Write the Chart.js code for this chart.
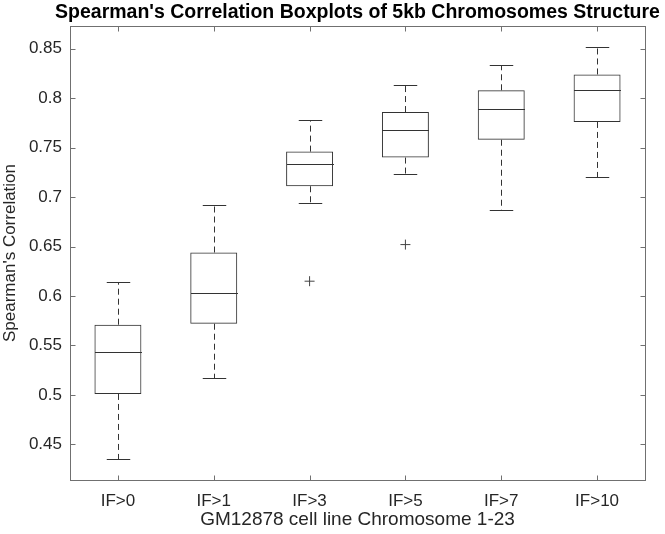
<!DOCTYPE html>
<html>
<head>
<meta charset="utf-8">
<script src="https://cdn.jsdelivr.net/npm/chart.js@4.4.0/dist/chart.umd.min.js"></script>
<style>
  html, body { margin: 0; padding: 0; background: #fff; }
  #wrap { width: 665px; height: 534px; }
</style>
</head>
<body>
<div id="wrap"><canvas id="chart" width="665" height="534"></canvas></div>
<script>
// Datos del boxplot
const categorias = ['IF>0', 'IF>1', 'IF>3', 'IF>5', 'IF>7', 'IF>10'];
const bigoteInf = [0.435, 0.517, 0.694, 0.723, 0.687, 0.720];
const cuartil1 = [0.501, 0.572, 0.711, 0.740, 0.758, 0.776];
const mediana = [0.543, 0.603, 0.733, 0.768, 0.789, 0.808];
const cuartil3 = [0.571, 0.644, 0.746, 0.786, 0.808, 0.824];
const bigoteSup = [0.614, 0.692, 0.778, 0.813, 0.834, 0.852];
const atipicos = [null, null, 0.615, 0.652, null, null];
const ticksY = [0.45, 0.5, 0.55, 0.6, 0.65, 0.7, 0.75, 0.8, 0.85];
const titulo = "Spearman's Correlation Boxplots of 5kb Chromosomes Structure";

const COLOR_CAJA = '#333333';
const COLOR_EJE = '#707070';
const COLOR_TEXTO = '#262626';
const FUENTE = "'Liberation Sans', Arial, sans-serif";

// Plugin: medianas, bigotes, marco estilo MATLAB y título centrado sobre el área
const boxplotPlugin = {
    id: 'boxplotExtras',
    afterDatasetsDraw(chart) {
        const { ctx, chartArea, scales } = chart;
        const x = scales.x, y = scales.y;
        const anchoCat = x.getPixelForValue(1) - x.getPixelForValue(0);
        const medioCaja = anchoCat * 0.49 / 2;
        const medioTope = anchoCat * 0.245 / 2;

        ctx.save();
        ctx.strokeStyle = COLOR_CAJA;
        ctx.lineWidth = 1;
        categorias.forEach((c, i) => {
            const cx = Math.round(x.getPixelForValue(i)) + 0.5;
            const yMed = Math.round(y.getPixelForValue(mediana[i])) + 0.5;
            const yQ1 = y.getPixelForValue(cuartil1[i]);
            const yQ3 = y.getPixelForValue(cuartil3[i]);
            const yLo = Math.round(y.getPixelForValue(bigoteInf[i])) + 0.5;
            const yHi = Math.round(y.getPixelForValue(bigoteSup[i])) + 0.5;

            // mediana
            ctx.setLineDash([]);
            ctx.beginPath();
            ctx.moveTo(cx - medioCaja, yMed);
            ctx.lineTo(cx + medioCaja, yMed);
            ctx.stroke();

            // topes
            ctx.beginPath();
            ctx.moveTo(cx - medioTope, yLo);
            ctx.lineTo(cx + medioTope, yLo);
            ctx.moveTo(cx - medioTope, yHi);
            ctx.lineTo(cx + medioTope, yHi);
            ctx.stroke();

            // bigotes punteados
            ctx.setLineDash([6, 4]);
            ctx.beginPath();
            ctx.moveTo(cx, yQ1);
            ctx.lineTo(cx, yLo);
            ctx.moveTo(cx, yQ3);
            ctx.lineTo(cx, yHi);
            ctx.stroke();
        });

        // marco y marcas hacia adentro
        ctx.setLineDash([]);
        ctx.strokeStyle = COLOR_EJE;
        const l = Math.round(chartArea.left) + 0.5, r = Math.round(chartArea.right) + 0.5;
        const t = Math.round(chartArea.top) + 0.5, b = Math.round(chartArea.bottom) + 0.5;
        ctx.strokeRect(l, t, r - l, b - t);
        ctx.beginPath();
        categorias.forEach((c, i) => {
            const px = Math.round(x.getPixelForValue(i)) + 0.5;
            ctx.moveTo(px, b); ctx.lineTo(px, b - 5);
            ctx.moveTo(px, t); ctx.lineTo(px, t + 5);
        });
        ticksY.forEach(v => {
            const py = Math.round(y.getPixelForValue(v)) + 0.5;
            ctx.moveTo(l, py); ctx.lineTo(l + 5, py);
            ctx.moveTo(r, py); ctx.lineTo(r - 5, py);
        });
        ctx.stroke();

        // título
        ctx.fillStyle = '#000';
        ctx.font = 'bold 19.5px ' + FUENTE;
        ctx.textAlign = 'center';
        ctx.textBaseline = 'alphabetic';
        ctx.fillText(titulo, (chartArea.left + chartArea.right) / 2, 18);
        ctx.restore();
    }
};

const ctx = document.getElementById('chart').getContext('2d');
const chart = new Chart(ctx, {
    type: 'bar',
    data: {
        labels: categorias,
        datasets: [{
            label: 'Caja',
            data: categorias.map((c, i) => [cuartil1[i], cuartil3[i]]),
            backgroundColor: 'rgba(0,0,0,0)',
            borderColor: COLOR_CAJA,
            borderWidth: 1,
            borderSkipped: false,
            barPercentage: 0.49,
            categoryPercentage: 1
        }, {
            type: 'line',
            label: 'Atípicos',
            data: atipicos,
            showLine: false,
            pointStyle: 'cross',
            pointRadius: 5,
            borderColor: '#444',
            borderWidth: 1
        }]
    },
    options: {
        responsive: false,
        animation: false,
        devicePixelRatio: 1,
        layout: { padding: { top: 26, right: 20, bottom: 0, left: 0 } },
        plugins: {
            legend: { display: false },
            tooltip: { enabled: false },
            title: { display: false }
        },
        scales: {
            x: {
                type: 'category',
                offset: true,
                grid: { display: false, drawTicks: false },
                border: { display: false },
                ticks: { color: COLOR_TEXTO, font: { family: FUENTE, size: 17 }, padding: 11, maxRotation: 0 },
                title: {
                    display: true,
                    text: 'GM12878 cell line Chromosome 1-23',
                    color: COLOR_TEXTO,
                    font: { family: FUENTE, size: 19 },
                    padding: { top: 0, bottom: 3 }
                },
                afterFit(scale) { scale.height = 54; }
            },
            y: {
                min: 0.414,
                max: 0.873,
                grid: { display: false, drawTicks: false },
                border: { display: false },
                afterBuildTicks(scale) { scale.ticks = ticksY.map(v => ({ value: v })); },
                ticks: {
                    color: COLOR_TEXTO,
                    font: { family: FUENTE, size: 17 },
                    padding: 8,
                    callback: v => String(+Number(v).toFixed(2))
                },
                title: {
                    display: true,
                    text: "Spearman's Correlation",
                    color: COLOR_TEXTO,
                    font: { family: FUENTE, size: 17 },
                    padding: { top: 0, bottom: 0 }
                },
                afterFit(scale) { scale.width = 70; }
            }
        }
    },
    plugins: [boxplotPlugin]
});
</script>
</body>
</html>
